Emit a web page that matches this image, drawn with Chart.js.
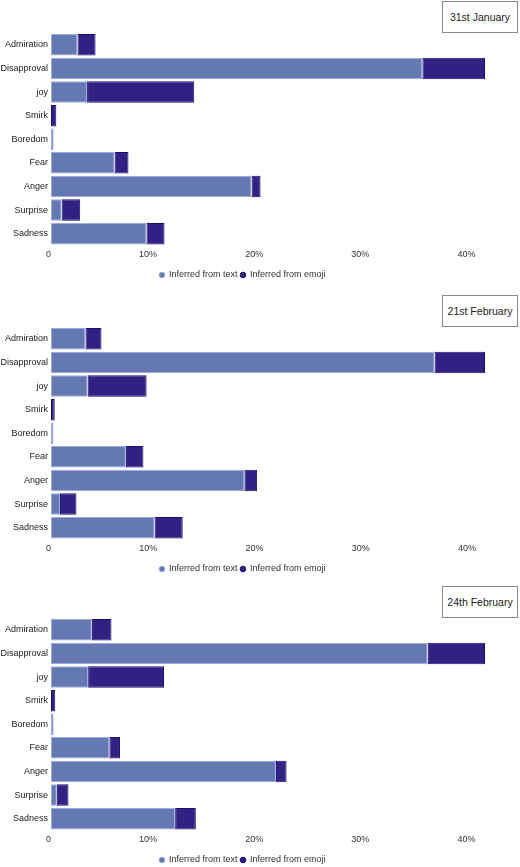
<!DOCTYPE html>
<html>
<head>
<meta charset="utf-8">
<script src="https://cdn.jsdelivr.net/npm/chart.js@4"></script>
<style>
html, body { margin: 0; padding: 0; background: #fff; width: 520px; height: 867px; overflow: hidden; }
.panel { position: absolute; left: 0; width: 520px; height: 290px; }
.panel canvas { position: absolute; left: 0; top: 0; }
.date-box {
    position: absolute; left: 442px; top: 1px; width: 74px; height: 30px;
    border: 1px solid #8a8a8a; background: #fff; color: #222;
    font: 10.5px "Liberation Sans", Arial, sans-serif;
    display: flex; align-items: center; justify-content: center;
}
</style>
</head>
<body>
<script>
var emotions = ['Admiration', 'Disapproval', 'joy', 'Smirk', 'Boredom', 'Fear', 'Anger', 'Surprise', 'Sadness'];
var dateLabels = ['31st January', '21st February', '24th February'];
var seriesNames = ['Inferred from text', 'Inferred from emoji'];

var jan31Text = [2.5, 35.0, 3.4, 0, 0.25, 6.0, 18.9, 1.0, 9.0];
var jan31Emoji = [1.7, 5.9, 10.1, 0.5, 0, 1.3, 0.85, 1.75, 1.7];
var feb21Text = [3.25, 36.1, 3.45, 0, 0.22, 7.05, 18.2, 0.85, 9.75];
var feb21Emoji = [1.5, 4.75, 5.55, 0.35, 0, 1.65, 1.2, 1.55, 2.65];
var feb24Text = [3.85, 35.5, 3.5, 0, 0.25, 5.5, 21.2, 0.55, 11.7];
var feb24Emoji = [1.85, 5.4, 7.15, 0.4, 0, 1.0, 1.0, 1.1, 1.95];

Chart.defaults.font.family = '"Liberation Sans", Arial, sans-serif';

function buildPanel(idx, top, textVals, emojiVals) {
    var panel = document.createElement('div');
    panel.className = 'panel';
    panel.style.top = top + 'px';
    var canvas = document.createElement('canvas');
    canvas.width = 520;
    canvas.height = 290;
    panel.appendChild(canvas);
    var box = document.createElement('div');
    box.className = 'date-box';
    box.textContent = dateLabels[idx];
    panel.appendChild(box);
    document.body.appendChild(panel);

    // longest stacked bar reaches the right edge of the plot
    var maxTotal = 0;
    textVals.forEach(function (v, i) { maxTotal = Math.max(maxTotal, v + emojiVals[i]); });

    new Chart(canvas.getContext('2d'), {
        type: 'bar',
        data: {
            labels: emotions,
            datasets: [
                { label: seriesNames[0], data: textVals, backgroundColor: '#6478b2', borderColor: '#9dace0', borderWidth: 1, borderSkipped: false },
                { label: seriesNames[1], data: emojiVals, backgroundColor: '#322082', borderColor: '#1e0f73', borderWidth: 1, borderSkipped: false }
            ]
        },
        options: {
            indexAxis: 'y',
            responsive: false,
            animation: false,
            layout: { padding: { top: 33, right: 35, bottom: 0.5, left: 0 } },
            datasets: { bar: { categoryPercentage: 1, barPercentage: 0.91 } },
            plugins: {
                tooltip: { enabled: false },
                legend: {
                    position: 'bottom',
                    labels: {
                        usePointStyle: true, pointStyle: 'circle',
                        boxWidth: 5, boxHeight: 4, padding: 3,
                        color: '#333', font: { size: 9 }
                    }
                }
            },
            scales: {
                x: {
                    stacked: true, min: 0, max: maxTotal,
                    grid: { display: false, drawTicks: false },
                    border: { display: false },
                    ticks: {
                        stepSize: 10, includeBounds: false, align: 'end', padding: 4,
                        maxRotation: 0, autoSkip: false, color: '#333', font: { size: 9 },
                        callback: function (v) { return v === 0 ? '0' : v + '%'; }
                    },
                    afterFit: function (s) { s.height = 22; }
                },
                y: {
                    stacked: true,
                    grid: { display: false, drawTicks: false },
                    border: { display: false },
                    ticks: { padding: 3, autoSkip: false, color: '#222', font: { size: 9 } },
                    afterFit: function (s) { s.width = 51; }
                }
            }
        }
    });
}

buildPanel(0, 0, jan31Text, jan31Emoji);
buildPanel(1, 294, feb21Text, feb21Emoji);
buildPanel(2, 585, feb24Text, feb24Emoji);
</script>
</body>
</html>
